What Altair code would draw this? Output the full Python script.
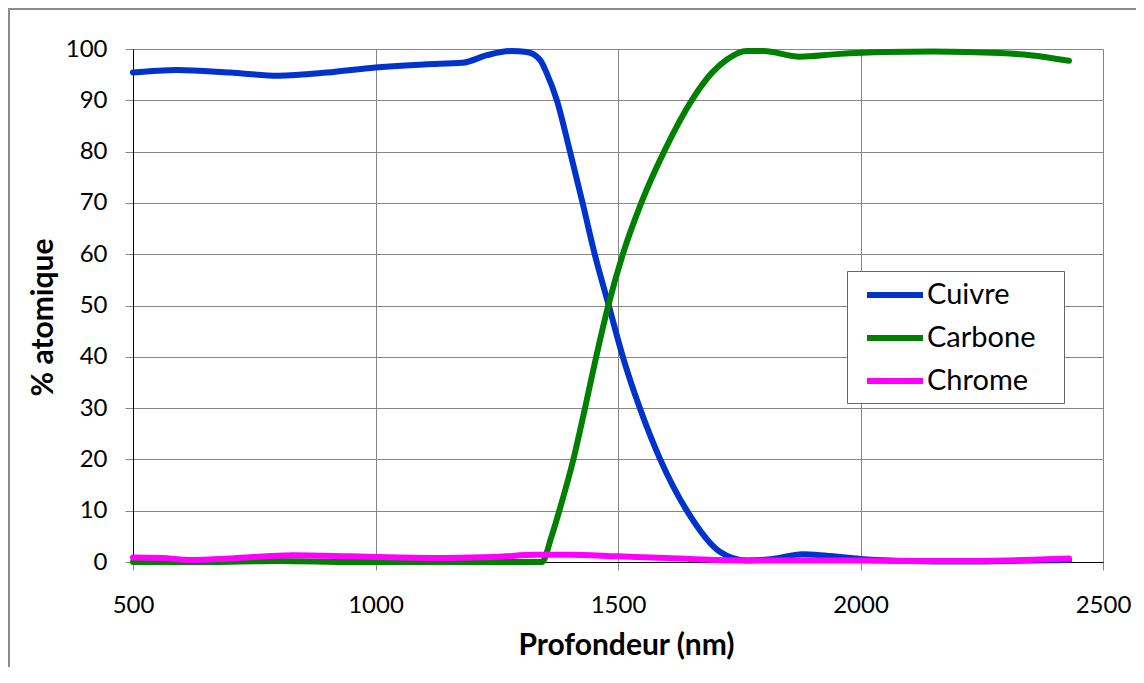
import altair as alt
import pandas as pd

# ---- data ----
series_names = ["Cuivre", "Carbone", "Chrome"]
series_colors = ["#0033CC", "#008000", "#FF00FF"]

cuivre_x = [500, 590, 700, 800, 900, 1000, 1100, 1180, 1230, 1280, 1312, 1339, 1353, 1374,
            1401, 1427, 1452, 1481, 1510, 1545, 1587, 1642, 1710, 1765, 1820, 1880, 1930,
            2000, 2100, 2200, 2300, 2430]
cuivre_y = [95.4, 95.9, 95.4, 94.8, 95.4, 96.4, 97.0, 97.3, 98.8, 99.6, 99.4, 97.9, 95.3, 90,
            80, 70, 60, 50, 40, 30, 20, 10, 2, 0.3, 0.6, 1.5, 1.2,
            0.6, 0.2, 0.1, 0.2, 0.4]

carbone_x = [500, 650, 800, 950, 1100, 1250, 1343, 1363, 1379, 1408, 1432, 1455, 1480, 1510,
             1548, 1595, 1652, 1693, 1724, 1765, 1800, 1875, 1950, 2050, 2150, 2288, 2350, 2430]
carbone_y = [0, 0, 0.2, 0, 0, 0, 0, 5, 10, 20, 30, 40, 50, 60,
             70, 80, 90, 95.3, 97.9, 99.6, 99.6, 98.5, 99.0, 99.4, 99.5, 99.2, 98.8, 97.7]

chrome_x = [500, 560, 620, 700, 830, 950, 1050, 1150, 1250, 1330, 1400, 1500, 1600, 1700,
            1800, 1900, 2000, 2100, 2200, 2300, 2430]
chrome_y = [0.9, 0.8, 0.4, 0.7, 1.3, 1.1, 0.9, 0.8, 1.0, 1.4, 1.4, 1.1, 0.8, 0.4,
            0.3, 0.3, 0.3, 0.2, 0.2, 0.3, 0.7]

x_ticks = [500, 1000, 1500, 2000, 2500]
y_ticks = list(range(0, 101, 10))

rows = []
for name, xs, ys in zip(series_names, [cuivre_x, carbone_x, chrome_x], [cuivre_y, carbone_y, chrome_y]):
    for xv, yv in zip(xs, ys):
        rows.append({"serie": name, "profondeur": xv, "pct": yv})
df = pd.DataFrame(rows)

FONT = "Lato"
GRID = "#868686"

x_enc = alt.X(
    "profondeur:Q",
    scale=alt.Scale(domain=[500, 2500], nice=False, zero=False),
    axis=alt.Axis(
        values=x_ticks, title="Profondeur (nm)", format="d",
        labelFont=FONT, labelFontSize=24, labelColor="black", labelPadding=23,
        labelFlush=False, labelOverlap=False,
        tickSize=8, tickColor=GRID, domainColor="black", domainWidth=1,
        grid=True, gridColor=GRID, gridWidth=1,
        titleFont=FONT, titleFontSize=30, titleFontWeight="bold", titleColor="black",
        titleX=493, titleY=92, titleAlign="center", titleBaseline="alphabetic",
    ),
)
y_enc = alt.Y(
    "pct:Q",
    scale=alt.Scale(domain=[0, 100], nice=False),
    axis=alt.Axis(
        values=y_ticks, title="% atomique",
        labelFont=FONT, labelFontSize=24, labelColor="black", labelPadding=18,
        labelFlush=False, labelOverlap=False,
        tickSize=8, tickColor=GRID, domainColor="black", domainWidth=1,
        grid=True, gridColor=GRID, gridWidth=1,
        titleFont=FONT, titleFontSize=30, titleFontWeight="bold", titleColor="black",
        titleX=-81, titleY=268, titleAngle=-90, titleAlign="center", titleBaseline="alphabetic",
    ),
)
color_enc = alt.Color(
    "serie:N",
    scale=alt.Scale(domain=series_names, range=series_colors),
    legend=alt.Legend(
        title=None, orient="none", legendX=714, legendY=222, direction="vertical",
        symbolType="M-2,0L2,0", symbolSize=784, symbolStrokeWidth=6,
        labelFont=FONT, labelFontSize=29, labelColor="black", labelOffset=15,
        labelExpr="datum.label + '\u2800'",
        padding=7, symbolOffset=24, rowPadding=11,
        strokeColor="#666666", fillColor="white",
    ),
)

layers = []
for name in series_names:
    layers.append(
        alt.Chart(df)
        .transform_filter(alt.datum.serie == name)
        .mark_line(interpolate="monotone", strokeWidth=6, strokeCap="round", strokeJoin="round")
        .encode(x=x_enc, y=y_enc, color=color_enc)
    )

border = alt.Chart(alt.Data(values=[{"a": 1}])).mark_rect(
    fillOpacity=0, stroke="#8c8c8c", strokeWidth=2
).encode(x=alt.value(-124), x2=alt.value(1100), y=alt.value(-40), y2=alt.value(700))

chart = alt.layer(border, *layers).properties(
    width=970, height=513,
    autosize=alt.AutoSizeParams(type="none"),
    padding={"left": 125, "top": 41, "right": 33, "bottom": 105},
).configure_view(stroke=None).configure(background="white")

chart.save("out.html", embed_options={"renderer": "svg", "actions": False})
